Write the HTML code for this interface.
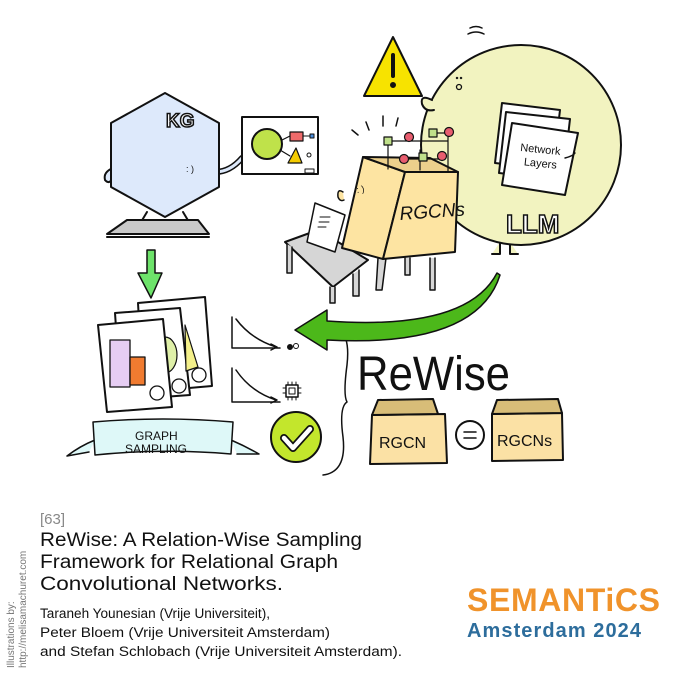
<!DOCTYPE html>
<html><head><meta charset="utf-8"><style>
html,body{margin:0;padding:0;background:#fff}
svg{display:block}
text{font-family:"Liberation Sans",sans-serif}
</style></head><body>
<svg width="680" height="680" viewBox="0 0 680 680" xmlns="http://www.w3.org/2000/svg">
<g stroke="#111" stroke-width="2" stroke-linejoin="round" stroke-linecap="round">
<!-- LLM circle -->
<path d="M500 242 v12 h-8 M510 242 v12 h8" fill="#f2f3c0"/>
<ellipse cx="521" cy="145" rx="100" ry="100" fill="#f2f3c0"/>
<path d="M432 100 q-12 -6 -10 4 q3 8 12 6" fill="#f2f3c0"/>
<path d="M470 28 q6 -3 12 0 M468 34 q8 -4 16 0" fill="none" stroke-width="1.5"/>
<circle cx="459" cy="87" r="2.5" fill="none" stroke-width="1.3"/>
<circle cx="457" cy="78" r="1" fill="#111" stroke-width="0.5"/>
<circle cx="461" cy="78" r="1" fill="#111" stroke-width="0.5"/>
<!-- network layers -->
<polygon points="502,103 560,110 553,170 495,163" fill="#fff"/>
<polygon points="506,112 570,119 563,180 499,173" fill="#fff"/>
<polygon points="512,123 578,133 565,195 502,185" fill="#fff"/>
<path d="M565 158 q8 -2 10 -5" fill="none" stroke-width="1.5"/>
<!-- warning -->
<polygon points="393,37 422,96 364,96" fill="#f7e300"/>
<line x1="393" y1="55" x2="393" y2="76" stroke-width="4"/>
<circle cx="393" cy="85" r="2" fill="#111"/>
<!-- KG -->
<path d="M113 168 q-10 4 -8 12 q4 5 8 -2" fill="#dde9fb"/>
<path d="M215 172 q15 0 27 -14" fill="none" stroke-width="6"/>
<path d="M215 172 q15 0 27 -14" fill="none" stroke="#dde9fb" stroke-width="3"/>
<path d="M147 212 l-6 10 M183 212 l6 10" fill="none"/>
<polygon points="127,220 198,220 209,234 107,234" fill="#c9c9c9"/>
<line x1="107" y1="237" x2="209" y2="237"/>
<polygon points="165,93 219,123 219,187 165,217 111,187 111,123" fill="#dde9fb"/>
<!-- whiteboard -->
<rect x="242" y="117" width="76" height="57" fill="#fff"/>
<circle cx="267" cy="144" r="15" fill="#bfe24a"/>
<line x1="282" y1="140" x2="290" y2="136" stroke-width="1.2"/>
<line x1="280" y1="150" x2="290" y2="156" stroke-width="1.2"/>
<rect x="290" y="132" width="13" height="9" fill="#ef6b6b" stroke-width="1.2"/>
<line x1="303" y1="136" x2="310" y2="136" stroke-width="1"/>
<rect x="310" y="134" width="4" height="4" fill="#4a8fe0" stroke-width="1"/>
<polygon points="296,148 302,163 288,163" fill="#f5cc00" stroke-width="1.2"/>
<circle cx="309" cy="155" r="2" fill="#fff" stroke-width="1"/>
<rect x="305" y="169" width="9" height="4" fill="#fff" stroke-width="1"/>
<!-- table -->
<polygon points="285,242 318,230 368,260 333,287" fill="#d6d6d6"/>
<path d="M287 244 v29 h5 v-26 M330 287 v16 h5 v-16 M353 274 v22 h6 v-26" fill="#d6d6d6" stroke-width="1.5"/>
<path d="M378 258 l-2 32 h6 l4 -32 M405 258 v17 h5 v-17 M430 258 v32 h5 v-32" fill="#d6d6d6" stroke-width="1.5"/>
<!-- RGCNs box -->
<polygon points="363,157 405,172 383,259 342,248" fill="#fde4a2"/>
<polygon points="405,172 458,172 455,252 383,259" fill="#fde4a2"/>
<polygon points="363,157 430,158 458,172 405,172" fill="#ecd08c"/>
<path d="M343 192 q-6 -4 -5 5 q2 5 6 3" fill="#fde4a2" stroke-width="1.5"/>
<polygon points="315,203 345,215 335,252 307,242" fill="#fff" stroke-width="1.5"/>
<path d="M320 217 h10 M319 222 h10 M318 227 h8" stroke-width="1"/>
<!-- network nodes -->
<g stroke-width="1.2">
<path d="M388 141 h60 M388 141 v28 M448 132 v40 M420 150 v20 M404 159 h40 M433 133 h14" fill="none"/>
<rect x="384" y="137" width="8" height="8" fill="#bfe08a"/>
<circle cx="409" cy="137" r="4.5" fill="#e85d6f"/>
<rect x="429" y="129" width="8" height="8" fill="#bfe08a"/>
<circle cx="449" cy="132" r="4.5" fill="#e85d6f"/>
<circle cx="404" cy="159" r="4.5" fill="#e85d6f"/>
<rect x="419" y="153" width="8" height="8" fill="#bfe08a"/>
<circle cx="442" cy="156" r="4.5" fill="#e85d6f"/>
</g>
<path d="M352 130 l6 5 M366 122 l3 8 M383 116 v10 M398 118 l-2 8" fill="none" stroke-width="1.5"/>
<!-- down arrow -->
<polygon points="147,250 155,250 155,273 162,273 151,298 138,273 147,273" fill="#6de36a" stroke-width="1.5"/>
<!-- papers -->
<polygon points="138,303 205,297 212,386 143,392" fill="#fff"/>
<polygon points="115,313 180,308 190,395 121,400" fill="#fff"/>
<path d="M185 325 l13 42 l-12 4 z" fill="#f4f08a" stroke-width="1.2"/>
<path d="M165 337 a12 18 0 0 1 0 36" fill="#dff0a8" stroke-width="1.2"/>
<polygon points="98,325 163,319 172,407 107,412" fill="#fff"/>
<rect x="110" y="340" width="20" height="47" fill="#e6cdf3" stroke-width="1.3"/>
<rect x="130" y="357" width="15" height="28" fill="#f07b30" stroke-width="1.3"/>
<circle cx="157" cy="393" r="7" fill="#fff" stroke-width="1.3"/>
<circle cx="179" cy="386" r="7" fill="#fff" stroke-width="1.3"/>
<circle cx="199" cy="375" r="7" fill="#fff" stroke-width="1.3"/>
<!-- banner -->
<path d="M95 440 q-15 6 -28 16 l22 -4 M231 440 q14 6 28 14 l-22 0" fill="#def8f8" stroke-width="1.5"/>
<path d="M93 422 q70 -6 140 0 l-2 32 q-68 -6 -136 1 z" fill="#def8f8" stroke-width="1.5"/>
<!-- plots -->
<path d="M232 317 v31 h48 M236 319 q15 20 40 28 M232 368 v34 h48 M236 370 q15 22 40 30" fill="none" stroke-width="1.5"/>
<path d="M271 344 l6 3 l-6 3 M271 397 l6 3 l-6 3" fill="none" stroke-width="1.5"/>
<circle cx="290" cy="347" r="2.5" fill="#111" stroke-width="1"/>
<circle cx="296" cy="346" r="2.5" fill="#fff" stroke-width="1"/>
<rect x="286" y="385" width="12" height="12" fill="#fff" stroke-width="1.5"/>
<rect x="289" y="388" width="6" height="6" fill="#fff" stroke-width="1"/>
<path d="M288 382 v3 M292 382 v3 M296 382 v3 M288 397 v3 M292 397 v3 M296 397 v3 M283 388 h3 M283 393 h3 M298 388 h3 M298 393 h3" stroke-width="1"/>
<!-- check -->
<circle cx="296" cy="437" r="25" fill="#c3e62c"/>
<path d="M284 438 l9 10 l17 -19" fill="none" stroke="#111" stroke-width="8"/>
<path d="M284 438 l9 10 l17 -19" fill="none" stroke="#fff" stroke-width="4.5"/>
<!-- brace -->
<path d="M340 330 q10 8 7 35 q-4 30 0 37 q-8 5 -4 35 q4 35 -20 38" fill="none" stroke-width="1.5"/>
<!-- green curved arrow -->
<path d="M497 273 q-30 58 -170 48 l0 -11 l-32 20 l32 20 l0 -10 q150 8 173 -65 z" fill="#4cb81a" stroke-width="1.5"/>
<!-- bottom boxes -->
<polygon points="372,415 445,414 447,463 370,464" fill="#fbe1a5"/>
<polygon points="378,400 433,399 438,414 372,415" fill="#d8bd78"/>
<circle cx="470" cy="435" r="14" fill="#fff"/>
<path d="M464 432 h12 M464 438 h12" stroke-width="1.5"/>
<polygon points="492,414 562,413 563,460 492,461" fill="#fbe1a5"/>
<polygon points="497,400 558,399 562,413 492,414" fill="#d8bd78"/>
</g>
<g fill="#111">
<text x="166" y="127" font-size="19" font-weight="bold" fill="#fff" stroke="#111" stroke-width="1.5">KG</text>
<text x="186" y="172" font-size="9">: )</text>
<text x="357" y="193" font-size="9" transform="rotate(-10 357 193)">: )</text>
<text x="540" y="153" font-size="11" text-anchor="middle" transform="rotate(6 540 153)">Network</text>
<text x="540" y="167" font-size="11" text-anchor="middle" transform="rotate(6 540 167)">Layers</text>
<text x="506" y="233" font-size="26" font-weight="bold" fill="#fff" stroke="#111" stroke-width="1.5">LLM</text>
<text x="400" y="220" font-size="19" font-style="italic" transform="rotate(-4 400 220)">RGCNs</text>
<text x="135" y="440" font-size="12">GRAPH</text>
<text x="125" y="453" font-size="12">SAMPLING</text>
<text x="357" y="390" font-size="48" textLength="153" lengthAdjust="spacingAndGlyphs">ReWise</text>
<text x="379" y="448" font-size="16">RGCN</text>
<text x="497" y="446" font-size="16">RGCNs</text>
<text x="40" y="524" font-size="15" fill="#888">[63]</text>
<text x="40" y="546" font-size="19" textLength="322" lengthAdjust="spacingAndGlyphs">ReWise: A Relation-Wise Sampling</text>
<text x="40" y="568" font-size="19" textLength="298" lengthAdjust="spacingAndGlyphs">Framework for Relational Graph</text>
<text x="40" y="590" font-size="19" textLength="243" lengthAdjust="spacingAndGlyphs">Convolutional Networks.</text>
<text x="40" y="618" font-size="13.5" textLength="230" lengthAdjust="spacingAndGlyphs">Taraneh Younesian (Vrije Universiteit),</text>
<text x="40" y="637" font-size="13.5" textLength="290" lengthAdjust="spacingAndGlyphs">Peter Bloem (Vrije Universiteit Amsterdam)</text>
<text x="40" y="656" font-size="13.5" textLength="362" lengthAdjust="spacingAndGlyphs">and Stefan Schlobach (Vrije Universiteit Amsterdam).</text>
<text transform="translate(14,668) rotate(-90)" font-size="10" fill="#777">Illustrations by:</text>
<text transform="translate(26,668) rotate(-90)" font-size="10" fill="#777">http://melisamachuret.com</text>
<text x="467" y="611" font-size="32" font-weight="bold" fill="#f0932b" textLength="193">SEMANTiCS</text>
<text x="467" y="637" font-size="20" font-weight="bold" fill="#2d6d9c" textLength="174">Amsterdam 2024</text>
</g>
</svg>
</body></html>
